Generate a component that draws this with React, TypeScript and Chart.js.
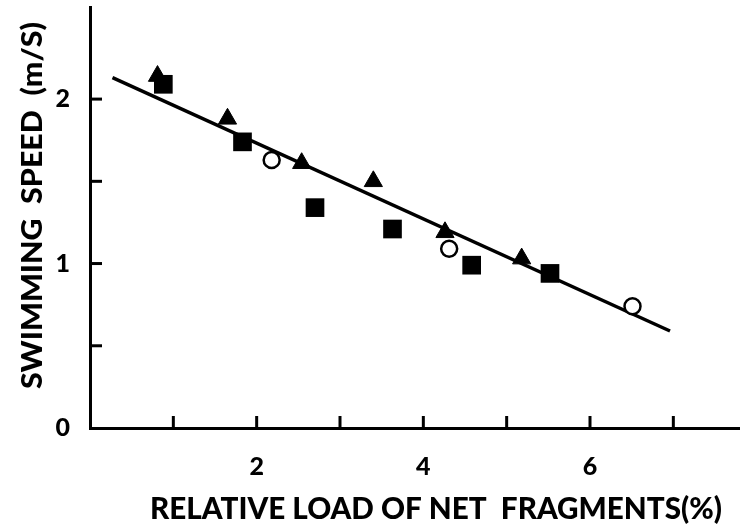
import React, { useEffect, useRef } from 'react';
import { Chart, registerables } from 'chart.js';

Chart.register(...registerables);

// ---- data ----
const triangleX = [0.81, 1.65, 2.54, 3.40, 4.26, 5.18];
const triangleY = [2.14, 1.88, 1.61, 1.50, 1.19, 1.03];
const squareX = [0.88, 1.83, 2.70, 3.63, 4.58, 5.52];
const squareY = [2.09, 1.74, 1.34, 1.21, 0.99, 0.94];
const circleX = [2.18, 4.31, 6.51];
const circleY = [1.63, 1.09, 0.74];
const fitLineX = [0.27, 6.96];
const fitLineY = [2.13, 0.59];

const xTickMarks = [1, 2, 3, 4, 5, 6, 7];
const xTickLabels = [2, 4, 6];
const yTickMarks = [0.5, 1, 1.5, 2];
const yTickLabels = [0, 1, 2];

const xTitle = 'RELATIVE LOAD OF NET  FRAGMENTS(%)';
const yTitle = 'SWIMMING  SPEED  (m/S)';

const FONT = 'Lato, "DejaVu Sans", sans-serif';
const WEIGHT = '900';

function toPoints(xs: number[], ys: number[]) {
  return xs.map((x, i) => ({ x, y: ys[i] }));
}

const inwardTicks = {
  id: 'inwardTicks',
  afterDatasetsDraw(chart: any) {
    const { ctx, chartArea } = chart;
    const xs = chart.scales.x;
    const ys = chart.scales.y;
    ctx.save();
    ctx.strokeStyle = '#000';
    ctx.lineWidth = 3;
    ctx.lineCap = 'butt';
    xTickMarks.forEach((v) => {
      const px = xs.getPixelForValue(v);
      ctx.beginPath();
      ctx.moveTo(px, chartArea.bottom);
      ctx.lineTo(px, chartArea.bottom - 12);
      ctx.stroke();
    });
    yTickMarks.forEach((v) => {
      const py = ys.getPixelForValue(v);
      ctx.beginPath();
      ctx.moveTo(chartArea.left, py);
      ctx.lineTo(chartArea.left + 12, py);
      ctx.stroke();
    });
    ctx.restore();
  },
};

function drawFitted(ctx: CanvasRenderingContext2D, text: string, x: number, y: number, targetW: number, size: number, rotate: boolean) {
  ctx.save();
  ctx.font = `${WEIGHT} ${size}px ${FONT}`;
  ctx.fillStyle = '#000';
  const w = ctx.measureText(text).width;
  ctx.translate(x, y);
  if (rotate) ctx.rotate(-Math.PI / 2);
  ctx.scale(targetW / w, 1);
  ctx.textAlign = 'center';
  ctx.textBaseline = 'alphabetic';
  ctx.fillText(text, 0, 0);
  ctx.restore();
}

const axisTitles = {
  id: 'axisTitles',
  afterDraw(chart: any) {
    const { ctx } = chart;
    drawFitted(ctx, xTitle, 436, 519, 572, 31, false);
    drawFitted(ctx, yTitle, 42, 205.5, 367, 28, true);
  },
};

export default function App() {
  const ref = useRef<HTMLCanvasElement | null>(null);

  useEffect(() => {
    document.body.style.margin = '0';
    const canvas = ref.current;
    if (!canvas) return;
    const chart = new Chart(canvas, {
      type: 'scatter',
      data: {
        datasets: [
          {
            label: 'triangles',
            data: toPoints(triangleX, triangleY),
            pointStyle: 'triangle',
            pointRadius: 10.5,
            backgroundColor: '#000',
            borderColor: '#000',
            borderWidth: 1,
            order: 1,
          },
          {
            label: 'squares',
            data: toPoints(squareX, squareY),
            pointStyle: 'rect',
            pointRadius: 13.2,
            backgroundColor: '#000',
            borderColor: '#000',
            borderWidth: 0,
            order: 2,
          },
          {
            label: 'circles',
            data: toPoints(circleX, circleY),
            pointStyle: 'circle',
            pointRadius: 8,
            backgroundColor: '#fff',
            borderColor: '#000',
            borderWidth: 2.5,
            order: 0,
          },
          {
            label: 'fit',
            data: toPoints(fitLineX, fitLineY),
            showLine: true,
            pointRadius: 0,
            borderColor: '#000',
            borderWidth: 3.5,
            backgroundColor: '#000',
            order: 10,
          } as any,
        ],
      },
      options: {
        animation: false,
        responsive: false,
        layout: { autoPadding: false, padding: { top: 7, right: 0, left: 0, bottom: 0 } },
        plugins: {
          legend: { display: false },
          tooltip: { enabled: false },
        },
        scales: {
          x: {
            type: 'linear',
            min: 0,
            max: 7.8,
            afterFit: (s: any) => {
              s.height = 96;
              s.paddingLeft = 0;
              s.paddingRight = 0;
            },
            grid: { display: false },
            border: { display: true, color: '#000', width: 3 },
            ticks: {
              stepSize: 1,
              padding: 16,
              color: '#000',
              font: { family: FONT, size: 25, weight: WEIGHT },
              callback: (v: any) => (xTickLabels.includes(Number(v)) ? String(v) : ''),
              maxRotation: 0,
              autoSkip: false,
            },
          },
          y: {
            type: 'linear',
            min: 0,
            max: 2.56,
            afterFit: (s: any) => {
              s.width = 90;
              s.paddingTop = 0;
              s.paddingBottom = 0;
            },
            grid: { display: false },
            border: { display: true, color: '#000', width: 3 },
            ticks: {
              stepSize: 0.5,
              padding: 12,
              color: '#000',
              font: { family: FONT, size: 25, weight: WEIGHT },
              callback: (v: any) => (yTickLabels.includes(Number(v)) ? String(v) : ''),
              autoSkip: false,
            },
          },
        },
      },
      plugins: [inwardTicks, axisTitles],
    } as any);
    return () => chart.destroy();
  }, []);

  return (
    <div style={{ width: 740, height: 524, overflow: 'hidden', background: '#fff' }}>
      <canvas ref={ref} width={740} height={524} style={{ display: 'block' }} />
    </div>
  );
}
